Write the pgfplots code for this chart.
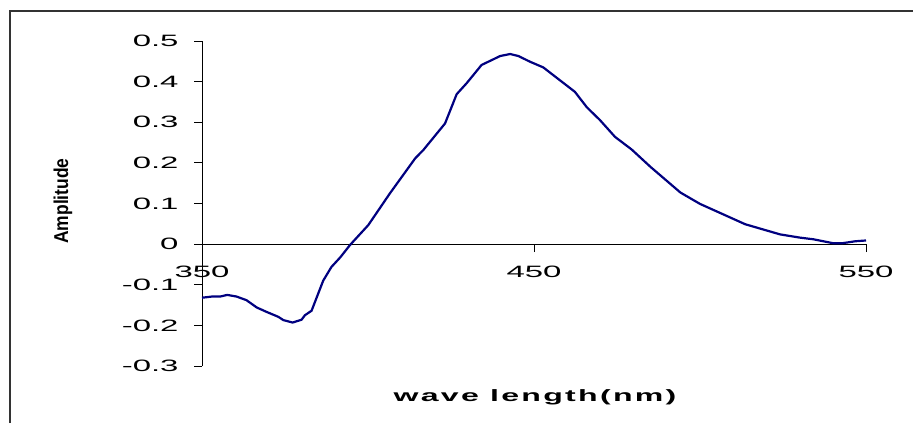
\documentclass[border=0pt]{standalone}
\usepackage{fontspec}
\setmainfont{Liberation Sans}
\newfontfamily\stretchfont[FakeStretch=2.0]{Liberation Sans}
\newfontfamily\labelfont[FakeStretch=1.95,LetterSpace=14]{Liberation Sans}
\usepackage{pgfplots}
\pgfplotsset{compat=1.18}
\definecolor{navyline}{RGB}{0,0,128}
\begin{document}
\begin{tikzpicture}[x=1bp,y=1bp]
\path[use as bounding box] (0,0) rectangle (913,423);
\draw[line width=1.6bp,black!80] (10,0) -- (10,412) -- (913,412);
\begin{axis}[
  at={(202bp,57bp)}, anchor=south west,
  scale only axis, width=664bp, height=325bp,
  xmin=350, xmax=550, ymin=-0.3, ymax=0.5,
  axis x line=middle, axis y line=left,
  hide obscured x ticks=false,
  axis line style={-, line width=0.8bp},
  xtick={350,450,550}, ytick={-0.3,-0.2,...,0.5},
  yticklabels={-0.3,-0.2,-0.1,0,0.1,0.2,0.3,0.4,0.5},
  tick align=outside,
  major tick length=8bp,
  tick style={black, line width=0.8bp},
  /pgf/number format/assume math mode=true,
  tick label style={font=\stretchfont\fontsize{16.5}{16.5}\selectfont},
  xticklabel style={anchor=north, yshift=-10bp},
  yticklabel style={anchor=east, xshift=-12bp},
  clip=false,
]
\addplot[navyline, line width=2.2bp, mark=none] coordinates {
(350,-0.132) (353,-0.129) (355.5,-0.129) (357.6,-0.125) (360.4,-0.129)
(363.4,-0.138) (366.5,-0.156) (369.5,-0.167) (373,-0.179) (374.5,-0.187)
(377.3,-0.193) (380,-0.186) (381,-0.175) (383,-0.164) (386.5,-0.09)
(389,-0.056) (391.6,-0.033) (394.6,-0.002) (400.1,0.047) (406.6,0.125)
(414.2,0.211) (416.7,0.232) (421.7,0.282) (423.2,0.297) (426.7,0.369)
(429.7,0.396) (434.2,0.441) (439.8,0.463) (442.8,0.468) (445.3,0.463)
(448.8,0.449) (452.8,0.435) (455.8,0.416) (462.3,0.375) (465.9,0.337)
(469.9,0.305) (474.4,0.264) (479.4,0.233) (485.1,0.19) (494.1,0.127)
(500,0.099) (513.6,0.049) (524.1,0.024) (530.1,0.016) (534.1,0.012)
(540.2,0.002) (542.7,0.002) (546.7,0.007) (550,0.009)
};
\end{axis}
\node[rotate=90, font=\bfseries\fontsize{17.5}{17.5}\selectfont] at (63,222) {\scalebox{1}[1.15]{Amplitude}};
\node[font=\labelfont\bfseries\fontsize{16.5}{16.5}\selectfont] at (535,26) {wave length(nm)};
\end{tikzpicture}
\end{document}
